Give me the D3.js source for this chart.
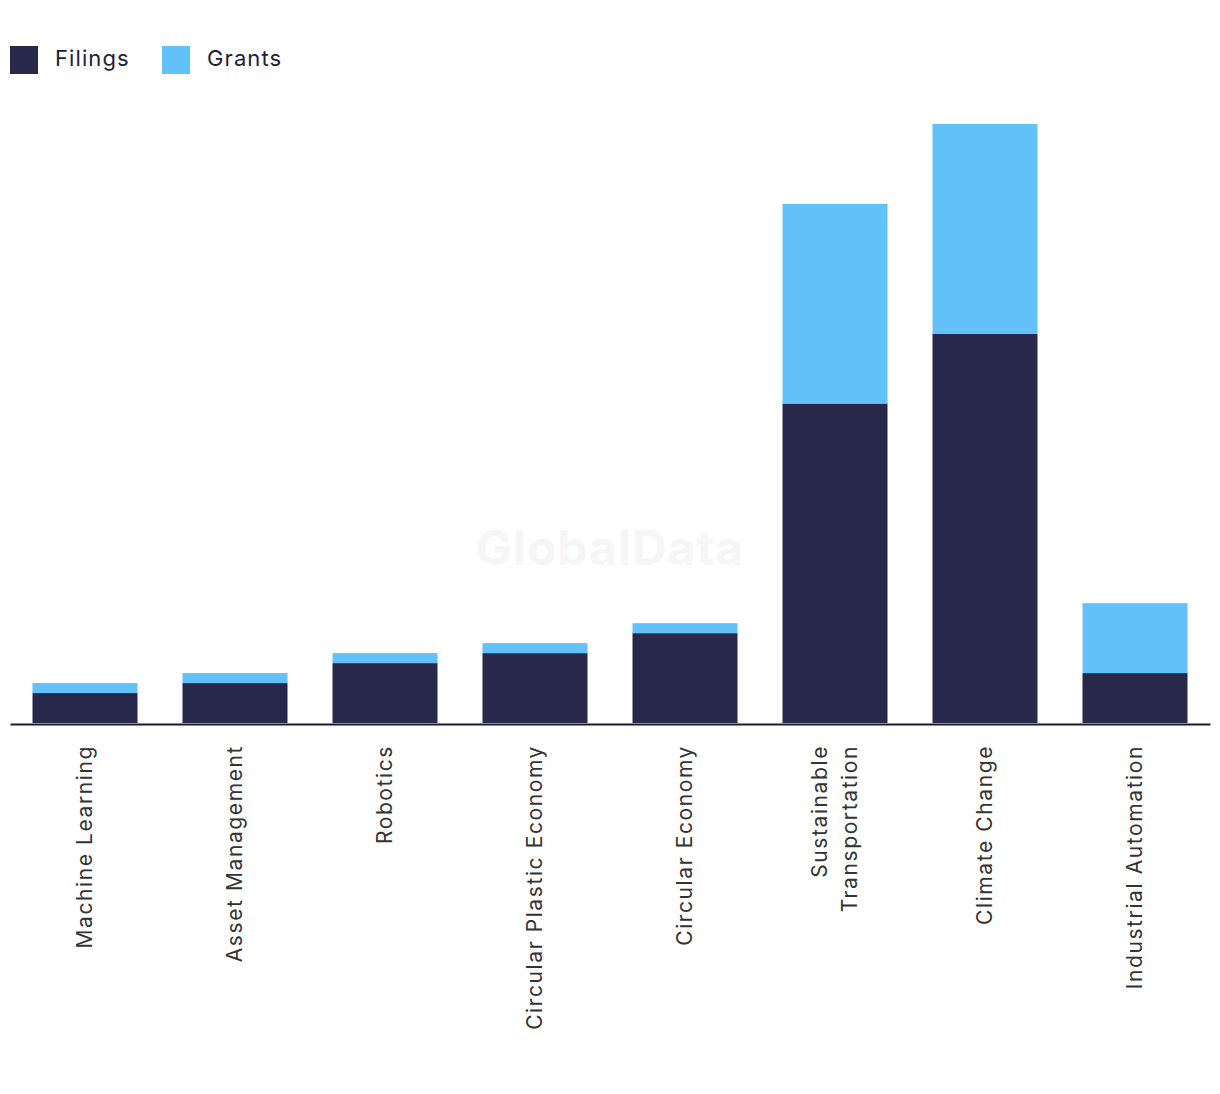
<!DOCTYPE html>
<html><head><meta charset="utf-8">
<script src="https://cdn.jsdelivr.net/npm/d3@7"></script>
<style>body{margin:0;background:#fff;} svg{display:block;}</style>
</head><body>
<svg id="chart" width="1220" height="1094"></svg>
<script>
const categories = ["Machine Learning","Asset Management","Robotics","Circular Plastic Economy","Circular Economy","Sustainable Transportation","Climate Change","Industrial Automation"];
const filings = [3,4,6,7,9,32,39,5];
const grants  = [1,1,1,1,1,20,21,7];
const seriesNames = ["Filings","Grants"];
const colors = ["#27284a","#63c1f9"];

const svg = d3.select("#chart");
const font = "Inter, 'Noto Sans', sans-serif";
const x = d3.scaleBand().domain(categories).range([10,1210]).paddingInner(0.3).paddingOuter(0.15);
const y = d3.scaleLinear().domain([0,60]).range([723,124]);

// watermark
svg.append("text").attr("x",610).attr("y",565).attr("text-anchor","middle")
  .attr("font-family",font).attr("font-weight",700).attr("font-size",48)
  .attr("letter-spacing",1).attr("fill","#f6f6f6").text("GlobalData");

const data = categories.map((c,i)=>({cat:c, Filings:filings[i], Grants:grants[i]}));
const stack = d3.stack().keys(seriesNames)(data);
svg.append("g").selectAll("g").data(stack).join("g")
  .attr("fill",(d,i)=>colors[i])
  .selectAll("rect").data(d=>d).join("rect")
  .attr("x",d=>x(d.data.cat)).attr("width",x.bandwidth())
  .attr("y",d=>y(d[1])).attr("height",d=>y(d[0])-y(d[1]));

// axis line
const axis = svg.append("g").attr("transform","translate(0,724)")
  .call(d3.axisBottom(x).tickSize(0).tickFormat(""));
axis.select(".domain").attr("stroke","#1a1a2e").attr("stroke-width",2);

// labels
const labelLines = {"Sustainable Transportation":["Sustainable","Transportation"]};
categories.forEach(c=>{
  const lines = labelLines[c] || [c];
  const cx = x(c)+x.bandwidth()/2;
  lines.forEach((ln,j)=>{
    const off = (j-(lines.length-1)/2)*30;
    svg.append("text")
      .attr("transform",`translate(${cx+off+7},745) rotate(-90)`)
      .attr("text-anchor","end")
      .attr("font-family",font).attr("font-size",21).attr("letter-spacing",1.6)
      .attr("fill","#333").text(ln);
  });
});

// legend
const lg = svg.append("g");
seriesNames.forEach((s,i)=>{
  const lx = 10 + i*152;
  lg.append("rect").attr("x",lx).attr("y",46).attr("width",28).attr("height",28).attr("fill",colors[i]);
  lg.append("text").attr("x",lx+45).attr("y",66).attr("font-family",font).attr("font-size",22)
    .attr("letter-spacing",1.1).attr("fill","#1f2038").text(s);
});
</script>
</body></html>
